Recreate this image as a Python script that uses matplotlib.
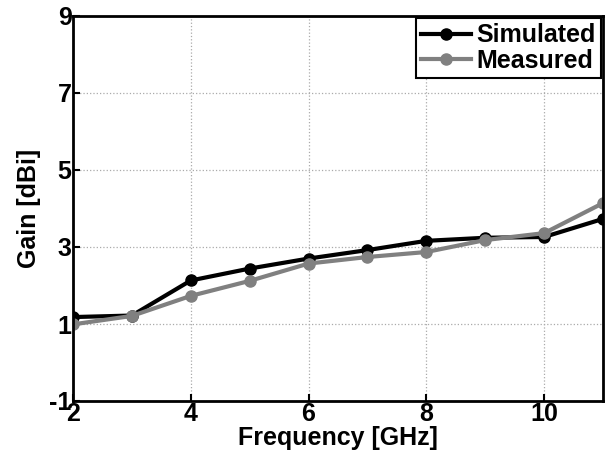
import matplotlib
matplotlib.use('Agg')
import matplotlib.pyplot as plt

plt.rcParams['font.family'] = ['Liberation Sans', 'DejaVu Sans']
plt.rcParams['font.weight'] = 'bold'
plt.rcParams['axes.unicode_minus'] = False

freq = [2, 3, 4, 5, 6, 7, 8, 9, 10, 11]
simulated = [1.18, 1.22, 2.13, 2.44, 2.70, 2.92, 3.16, 3.24, 3.26, 3.73]
measured = [0.99, 1.21, 1.73, 2.12, 2.57, 2.74, 2.87, 3.18, 3.36, 4.14]

fig = plt.figure(figsize=(6.1, 4.59), dpi=100)
ax = fig.add_axes([73/610, 1 - 401/459, 530/610, 385/459])

ax.plot(freq, simulated, color='black', lw=3, marker='o', markersize=8, label='Simulated')
ax.plot(freq, measured, color='#808080', lw=3, marker='o', markersize=8, label='Measured')

ax.set_xlim(2, 11)
ax.set_ylim(-1, 9)
ax.set_xticks([2, 4, 6, 8, 10])
ax.set_yticks([-1, 1, 3, 5, 7, 9])
ax.grid(True, linestyle=':', color='#aaaaaa', lw=0.9)
ax.tick_params(direction='in', labelsize=18, width=1.5, length=5, pad=1)
for lab in ax.get_xticklabels() + ax.get_yticklabels():
    lab.set_fontweight('bold')
for sp in ax.spines.values():
    sp.set_linewidth(2)

ax.set_xlabel('Frequency [GHz]', fontsize=18, fontweight='bold', labelpad=0)
ax.set_ylabel('Gain [dBi]', fontsize=18, fontweight='bold', labelpad=6)

leg = ax.legend(loc='upper right', fontsize=18, fancybox=False, framealpha=1,
                edgecolor='black', handlelength=2.0, handletextpad=0.2,
                borderpad=0.2, labelspacing=0.05, borderaxespad=0.1)
leg.get_frame().set_linewidth(1.5)
for t in leg.get_texts():
    t.set_fontweight('bold')

fig.savefig('out.png', dpi=100)
